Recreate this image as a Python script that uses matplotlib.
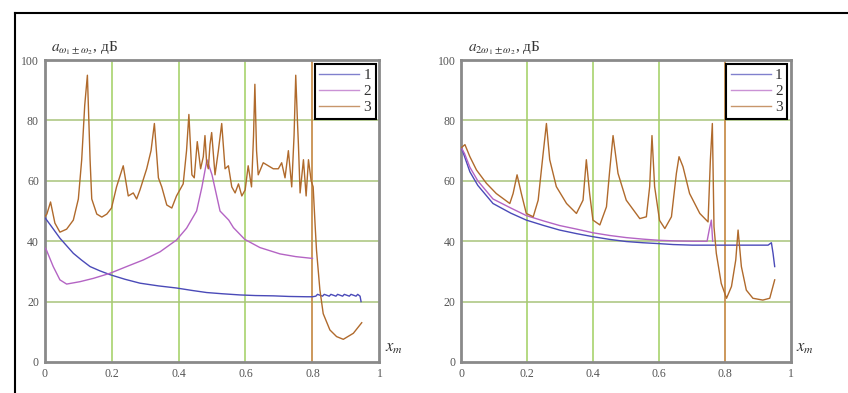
"""
Two Mathcad-style plots of combination frequency attenuation vs x_m
"""

# Imports
import matplotlib
matplotlib.use("Agg")
import matplotlib.pyplot as plt
from matplotlib.lines import Line2D

# Fonts
plt.rcParams["font.family"] = ["Liberation Serif", "DejaVu Serif"]
plt.rcParams["mathtext.fontset"] = "stix"

# Left plot data
L1_X = [0, 0.02, 0.046, 0.066, 0.086, 0.11, 0.136, 0.165, 0.196, 0.24,
        0.285, 0.34, 0.394, 0.44, 0.484, 0.53, 0.584, 0.63, 0.683, 0.73,
        0.783, 0.8, 0.81, 0.815, 0.83, 0.835, 0.85, 0.855, 0.87, 0.875,
        0.89, 0.895, 0.91, 0.915, 0.93, 0.935, 0.942, 0.945]
L1_Y = [48, 45, 41, 38.5, 36, 33.8, 31.6, 30.2, 28.9, 27.4,
        26.1, 25.2, 24.5, 23.7, 23.0, 22.6, 22.2, 22.0, 21.9, 21.7,
        21.6, 21.6, 21.8, 22.4, 21.8, 22.4, 21.8, 22.4, 21.8, 22.4,
        21.8, 22.4, 21.8, 22.4, 21.8, 22.4, 21.8, 20]

L2_X = [0, 0.006, 0.026, 0.046, 0.066, 0.106, 0.146, 0.196, 0.245, 0.295,
        0.345, 0.394, 0.424, 0.454, 0.47, 0.485, 0.5, 0.524, 0.55, 0.564,
        0.598, 0.643, 0.703, 0.75, 0.8]
L2_Y = [38, 37, 31.6, 27.2, 25.8, 26.6, 27.7, 29.4, 31.6, 33.8,
        36.5, 40.4, 44.3, 50, 58, 67, 62, 50, 47, 44.5,
        40.6, 37.9, 35.8, 34.9, 34.3]

L3_X = [0.000, 0.007, 0.018, 0.031, 0.046, 0.066, 0.086, 0.101, 0.111, 0.120,
        0.128, 0.136, 0.141, 0.156, 0.171, 0.186, 0.200, 0.215, 0.235, 0.250,
        0.265, 0.275, 0.285, 0.305, 0.318, 0.328, 0.340, 0.350, 0.365, 0.380,
        0.394, 0.414, 0.424, 0.431, 0.440, 0.447, 0.456, 0.466, 0.474, 0.479,
        0.484, 0.489, 0.494, 0.499, 0.509, 0.519, 0.529, 0.539, 0.549, 0.559,
        0.569, 0.579, 0.589, 0.599, 0.608, 0.618, 0.624, 0.628, 0.633, 0.638,
        0.653, 0.668, 0.683, 0.698, 0.708, 0.718, 0.728, 0.738, 0.745, 0.750,
        0.755, 0.758, 0.763, 0.773, 0.781, 0.788, 0.796, 0.802, 0.808, 0.812,
        0.822, 0.832, 0.852, 0.872, 0.892, 0.922, 0.947]
L3_Y = [48, 49, 53, 46, 43, 44, 47, 54, 67, 85,
        95, 67, 54, 49, 48, 49, 51, 58, 65, 55,
        56, 54, 57, 64, 70, 79, 61, 58, 52, 51,
        55, 59, 70, 82, 62, 61, 73, 64, 68, 75,
        66, 64, 72, 76, 62, 70, 79, 64, 65, 58,
        56, 59, 55, 57, 65, 58, 75, 92, 70, 62,
        66, 65, 64, 64, 66, 61, 70, 58, 75, 95,
        80, 72, 56, 67, 55, 67, 60, 58, 45, 37,
        24, 16, 10.6, 8.4, 7.5, 9.5, 13]

# Right plot data
R1_X = [0, 0.01, 0.026, 0.05, 0.096, 0.15, 0.197, 0.25, 0.298, 0.35,
        0.399, 0.45, 0.5, 0.55, 0.6, 0.642, 0.7, 0.753, 0.8, 0.85,
        0.904, 0.93, 0.94, 0.945, 0.95]
R1_Y = [71, 68, 63, 58.5, 52.5, 49.3, 47, 45.2, 43.7, 42.5,
        41.5, 40.6, 39.9, 39.5, 39.2, 38.9, 38.7, 38.7, 38.7, 38.7,
        38.7, 38.7, 39.5, 36, 31.6]

R2_X = [0, 0.01, 0.026, 0.05, 0.096, 0.15, 0.197, 0.25, 0.298, 0.35,
        0.399, 0.45, 0.5, 0.55, 0.6, 0.65, 0.7, 0.745, 0.752, 0.758, 0.762]
R2_Y = [71, 69, 64.5, 60, 54, 51, 48.5, 46.7, 45.2, 44,
        42.8, 41.9, 41.2, 40.7, 40.3, 40.1, 40, 40, 44, 47, 40]

R3_X = [0, 0.011, 0.026, 0.046, 0.076, 0.106, 0.147, 0.157, 0.169, 0.182,
        0.197, 0.218, 0.233, 0.248, 0.258, 0.268, 0.288, 0.319, 0.349, 0.369,
        0.379, 0.389, 0.399, 0.42, 0.44, 0.45, 0.46, 0.475, 0.5, 0.541,
        0.561, 0.571, 0.578, 0.586, 0.601, 0.617, 0.637, 0.652, 0.66, 0.672,
        0.692, 0.723, 0.748, 0.755, 0.761, 0.766, 0.773, 0.788, 0.804, 0.819,
        0.832, 0.839, 0.849, 0.864, 0.884, 0.914, 0.935, 0.95]
R3_Y = [71, 72, 68, 63.6, 59.2, 55.8, 52.5, 55.8, 62, 55.8,
        49.2, 48.1, 53.6, 69, 79, 67, 58.1, 52.5, 49.2, 53.6,
        67, 55.8, 47, 45.4, 51.4, 63.6, 75, 62.5, 53.6, 47.5,
        48.1, 58.1, 75, 58.1, 46.9, 44.2, 48.1, 62.5, 68, 64.7,
        55.8, 49.2, 46.4, 66.9, 79, 44.8, 36, 26, 21.1, 25,
        33.8, 43.7, 31.6, 23.8, 21.1, 20.5, 21.1, 27.2]

X_TICKS = [0, 0.2, 0.4, 0.6, 0.8, 1]
X_TICK_LABELS = ["0", "0.2", "0.4", "0.6", "0.8", "1"]
Y_TICKS = [0, 20, 40, 60, 80, 100]
LEGEND_LABELS = ["1", "2", "3"]
MARKER_X = 0.8

# Colors
BLUE = "#4a4ab8"
VIOLET = "#b464c4"
BROWN = "#b06a2c"


def draw_panel(ax, curves, title):
    # Grid lines drawn by hand (Mathcad look)
    for gx in [0.2, 0.4, 0.6]:
        ax.axvline(gx, color="#a0d060", lw=1.1, zorder=1)
    for gy in [20, 40, 60, 80]:
        ax.axhline(gy, color="#a8c47a", lw=1.1, zorder=1)
    ax.axvline(MARKER_X, color="#c8904e", lw=1.3, zorder=1)

    lines = []
    for (xs, ys), color in zip(curves, [BLUE, VIOLET, BROWN]):
        line, = ax.plot(xs, ys, color=color, lw=1.0, zorder=3)
        lines.append(line)

    ax.set_xlim(0, 1)
    ax.set_ylim(0, 100)
    ax.set_xticks(X_TICKS)
    ax.set_xticklabels(X_TICK_LABELS)
    ax.set_yticks(Y_TICKS)
    ax.tick_params(length=0, labelsize=8.5, labelcolor="#555555", pad=4)
    for spine in ax.spines.values():
        spine.set_color("#8a8a8a")
        spine.set_linewidth(2)

    leg = ax.legend(lines, LEGEND_LABELS, loc="upper right", fancybox=False,
                    edgecolor="black", framealpha=1, handlelength=2.6,
                    labelspacing=0.15, borderaxespad=0.25, borderpad=0.3,
                    handletextpad=0.3, prop={"size": 11})
    leg.get_frame().set_linewidth(1.5)
    for t in leg.get_texts():
        t.set_color("#333333")
    for h in leg.get_lines():
        h.set_alpha(0.7)

    # Axis captions
    ax.text(0.02, 1.01, title, transform=ax.transAxes, ha="left",
            va="bottom", fontsize=11, color="#333333")
    ax.text(1.015, 0.045, r"$x_m$", transform=ax.transAxes, ha="left",
            va="center", fontsize=12, color="#333333")


# Prepare figure
fig = plt.figure(figsize=(8.48, 3.93), dpi=100)
ax_left = fig.add_axes([0.0525, 0.079, 0.395, 0.768])
ax_right = fig.add_axes([0.544, 0.079, 0.389, 0.768])

draw_panel(ax_left, [(L1_X, L1_Y), (L2_X, L2_Y), (L3_X, L3_Y)],
           r"$a_{\omega_1 \pm \omega_2}$, дБ")
draw_panel(ax_right, [(R1_X, R1_Y), (R2_X, R2_Y), (R3_X, R3_Y)],
           r"$a_{2\omega_1 \pm \omega_2}$, дБ")

# Outer frame of the picture (top and left)
fig.add_artist(Line2D([0.0177, 1.0], [0.967, 0.967], color="black", lw=1.5))
fig.add_artist(Line2D([0.0177, 0.0177], [0.0, 0.967], color="black", lw=1.5))

fig.savefig("out.png", dpi=100)
